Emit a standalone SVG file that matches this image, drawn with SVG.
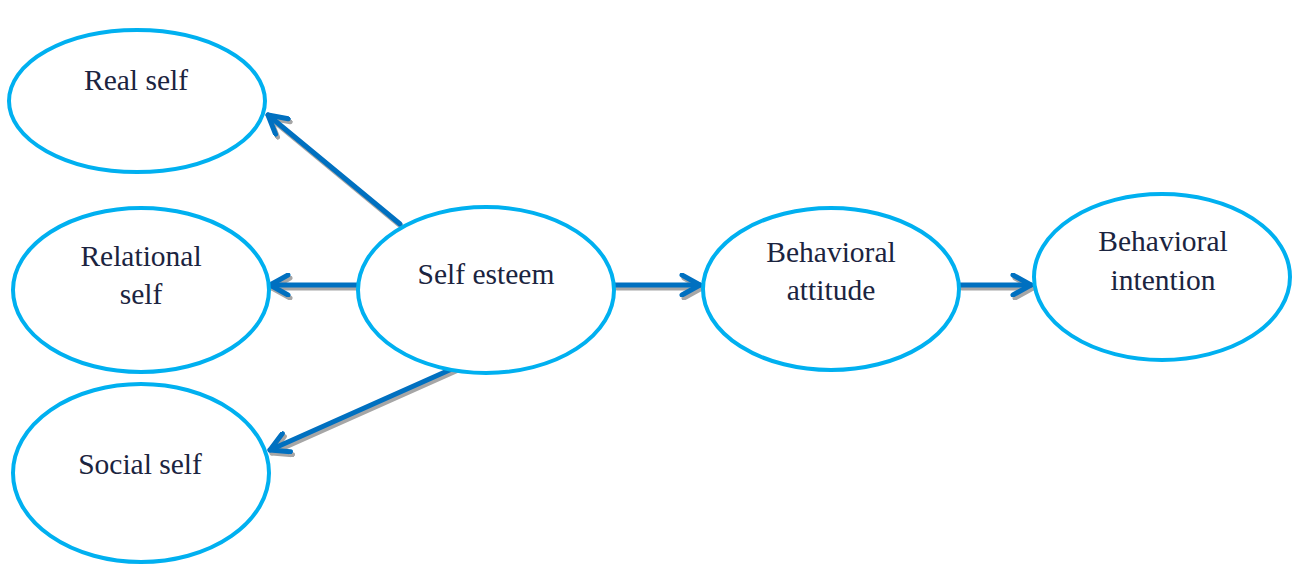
<svg xmlns="http://www.w3.org/2000/svg" xmlns:xlink="http://www.w3.org/1999/xlink" width="1295" height="567" viewBox="0 0 1295 567">
<style>
.node ellipse{fill:#fff;stroke:#00B0F0;stroke-width:4}
.node text{font-family:"Liberation Serif","Times New Roman",serif;font-size:29.5px;fill:#1B2440;text-anchor:middle}
.ln{stroke:#0070C0;stroke-width:5;fill:none;stroke-linecap:round}
.sh{stroke:#A6A6A6;stroke-width:5;fill:none;stroke-linecap:round}
</style>
<defs>
<marker id="ah" markerUnits="userSpaceOnUse" viewBox="-22 -12 26 24" refX="0" refY="0" markerWidth="26" markerHeight="24" orient="auto">
<path d="M-18,-10 L0,0 L-18,10" fill="none" stroke="#0070C0" stroke-width="5" stroke-linecap="round" stroke-linejoin="round"/>
</marker>
<marker id="ahs" markerUnits="userSpaceOnUse" viewBox="-22 -12 26 24" refX="0" refY="0" markerWidth="26" markerHeight="24" orient="auto">
<path d="M-18,-10 L0,0 L-18,10" fill="none" stroke="#A6A6A6" stroke-width="5" stroke-linecap="round" stroke-linejoin="round"/>
</marker>
</defs>
<g id="connectors">
<g transform="translate(2,3)">
<line class="sh" x1="400" y1="224" x2="268" y2="115" marker-end="url(#ahs)"/>
<line class="sh" x1="357" y1="285" x2="270" y2="285" marker-end="url(#ahs)"/>
<line class="sh" x1="454" y1="368" x2="270" y2="450" marker-end="url(#ahs)"/>
<line class="sh" x1="615" y1="285" x2="700" y2="285" marker-end="url(#ahs)"/>
<line class="sh" x1="960" y1="285" x2="1031" y2="285" marker-end="url(#ahs)"/>
</g>
<line class="ln" x1="400" y1="224" x2="268" y2="115" marker-end="url(#ah)"/>
<line class="ln" x1="357" y1="285" x2="270" y2="285" marker-end="url(#ah)"/>
<line class="ln" x1="454" y1="368" x2="270" y2="450" marker-end="url(#ah)"/>
<line class="ln" x1="615" y1="285" x2="700" y2="285" marker-end="url(#ah)"/>
<line class="ln" x1="960" y1="285" x2="1031" y2="285" marker-end="url(#ah)"/>
</g>
<g id="real-self" class="node"><ellipse cx="137" cy="101" rx="128" ry="71"/><text x="136" y="90">Real self</text></g>
<g id="relational-self" class="node"><ellipse cx="141" cy="290" rx="128" ry="82"/><text x="141" y="266">Relational</text><text x="141" y="304">self</text></g>
<g id="social-self" class="node"><ellipse cx="141" cy="473" rx="128" ry="89"/><text x="140" y="474">Social self</text></g>
<g id="self-esteem" class="node"><ellipse cx="486" cy="290" rx="128" ry="83"/><text x="486" y="284">Self esteem</text></g>
<g id="behavioral-attitude" class="node"><ellipse cx="831" cy="289" rx="128" ry="81"/><text x="831" y="262">Behavioral</text><text x="831" y="300">attitude</text></g>
<g id="behavioral-intention" class="node"><ellipse cx="1162" cy="277" rx="128" ry="83"/><text x="1163" y="251">Behavioral</text><text x="1163" y="290">intention</text></g>
</svg>
